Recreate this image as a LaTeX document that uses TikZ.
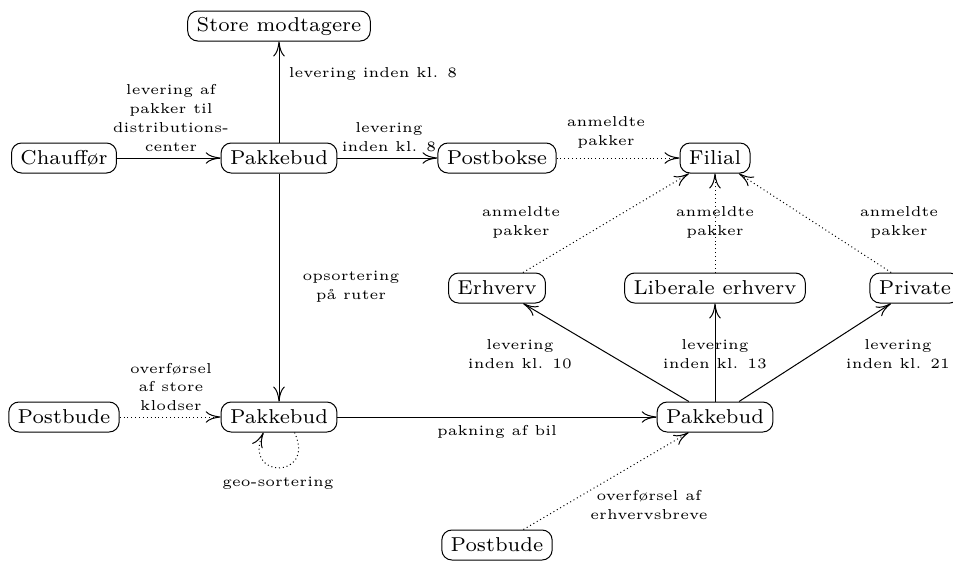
\documentclass[tikz,border=0pt]{standalone}
\usetikzlibrary{arrows.meta}
\begin{document}
\begin{tikzpicture}[x=0.3484pt,y=-0.3484pt,
  box/.style={draw, line width=0.35pt, rounded corners=3.5pt, font=\scriptsize,
    inner xsep=3.1pt, inner ysep=0pt, minimum height=10.45pt},
  lbl/.style={font=\fontsize{5}{6.6}\selectfont, align=center, inner sep=0pt},
  flow/.style={-{Computer Modern Rightarrow[length=5.2pt,width=4pt]}, line width=0.35pt},
  note/.style={flow, densely dotted}]
\useasboundingbox (0,0) rectangle (953,560);

% places
\node[box] (store)  at (279,26)  {Store modtagere};
\node[box] (chauf)  at (64,158)  {Chauffør};
\node[box] (pb1)    at (279,158) {Pakkebud};
\node[box] (pbox)   at (497,158) {Postbokse};
\node[box] (filial) at (715,158) {Filial};
\node[box] (erhv)   at (497,288) {Erhverv};
\node[box] (lib)    at (715,288) {Liberale erhverv};
\node[box] (priv)   at (915,288) {Private};
\node[box] (bude1)  at (64,417)  {Postbude};
\node[box] (pb2)    at (279,417) {Pakkebud};
\node[box] (pb3)    at (715,417) {Pakkebud};
\node[box] (bude2)  at (497,545) {Postbude};

% flows
\draw[flow] (chauf) -- (pb1);
\draw[flow] (pb1) -- (store);
\draw[flow] (pb1) -- (pbox);
\draw[note] (pbox) -- (filial);
\draw[flow] (pb1) -- (pb2);
\draw[note] (bude1) -- (pb2);
\draw[note] (pb2.-45) to[out=-65,in=-115,looseness=4.3] (pb2.-135);
\draw[flow] (pb2) -- (pb3);
\draw[flow] (pb3) -- (erhv);
\draw[flow] (pb3) -- (lib);
\draw[flow] (pb3) -- (priv);
\draw[note] (erhv) -- (filial);
\draw[note] (lib) -- (filial);
\draw[note] (priv) -- (filial);
\draw[note] (bude2) -- (pb3);

% labels
\node[lbl] (l1)  at (171,118) {levering af\\pakker til\\distributions-\\center};
\node[lbl] (l2)  at (373,74)  {levering inden kl. 8};
\node[lbl] (l3)  at (389,137) {levering\\inden kl. 8};
\node[lbl] (l4)  at (606,132) {anmeldte\\pakker};
\node[lbl] (l5)  at (521,222) {anmeldte\\pakker};
\node[lbl] (l6)  at (715,222) {anmeldte\\pakker};
\node[lbl] (l7)  at (899,222) {anmeldte\\pakker};
\node[lbl] (l8)  at (351,287) {opsortering\\på ruter};
\node[lbl] (l9)  at (171,387) {overførsel\\af store\\klodser};
\node[lbl] (l10) at (278,483) {geo-sortering};
\node[lbl] (l11) at (497,432) {pakning af bil};
\node[lbl] (l12) at (520,354) {levering\\inden kl. 10};
\node[lbl] (l13) at (715,354) {levering\\inden kl. 13};
\node[lbl] (l14) at (898,354) {levering\\inden kl. 21};
\node[lbl] (l15) at (649,505) {overførsel af\\erhvervsbreve};
\end{tikzpicture}
\end{document}
